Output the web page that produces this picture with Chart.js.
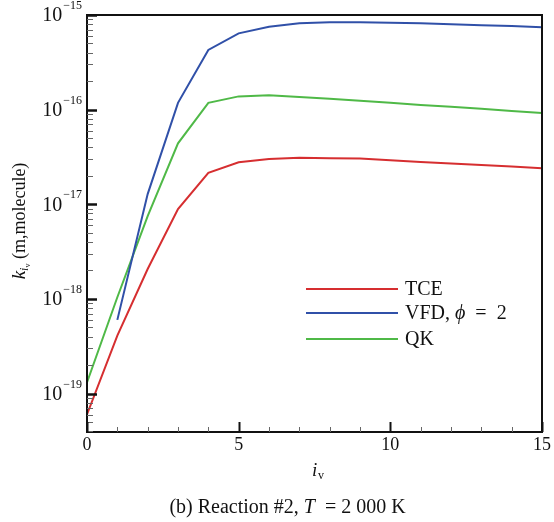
<!DOCTYPE html>
<html>
<head>
<meta charset="utf-8">
<script src="https://cdn.jsdelivr.net/npm/chart.js@4/dist/chart.umd.min.js"></script>
<style>
    body { margin: 0; background: #fff; }
    #wrap { width: 554px; height: 522px; }
</style>
</head>
<body>
<div id="wrap"><canvas id="grafico" width="554" height="522"></canvas></div>
<script>
// --- DATOS ---
const nivelesIv = [0, 1, 2, 3, 4, 5, 6, 7, 8, 9, 10, 11, 12, 13, 14, 15];
const valoresTCE = [6.0e-20, 4.1e-19, 2.07e-18, 8.9e-18, 2.15e-17, 2.78e-17, 3.01e-17, 3.11e-17, 3.06e-17, 3.04e-17, 2.92e-17, 2.80e-17, 2.70e-17, 2.60e-17, 2.51e-17, 2.40e-17];
const valoresVFD = [null, 6.0e-19, 1.28e-17, 1.18e-16, 4.27e-16, 6.4e-16, 7.5e-16, 8.2e-16, 8.4e-16, 8.4e-16, 8.3e-16, 8.2e-16, 7.98e-16, 7.8e-16, 7.65e-16, 7.4e-16];
const valoresQK = [1.31e-19, 1.04e-18, 7.5e-18, 4.4e-17, 1.18e-16, 1.38e-16, 1.42e-16, 1.36e-16, 1.30e-16, 1.24e-16, 1.18e-16, 1.12e-16, 1.07e-16, 1.02e-16, 0.97e-16, 0.92e-16];
const ticksX = [0, 5, 10, 15];
const exponentesY = [-19, -18, -17, -16, -15];

const colores = { tce: '#d62e30', vfd: '#3050a8', qk: '#4fb947' };
const FUENTE = '"Liberation Serif", "DejaVu Serif", serif';

function puntos(valores) {
    return nivelesIv.map((x, i) => ({ x: x, y: valores[i] }));
}

// escribe trozos de texto seguidos (normal / cursiva) desde x0
function textoPartes(ctx, partes, y, tam) {
    let ancho = 0;
    partes.forEach(([txt, estilo]) => { ctx.font = estilo + tam + 'px ' + FUENTE; ancho += ctx.measureText(txt).width; });
    return { ancho, dibujar: (x0) => {
        let px = x0;
        partes.forEach(([txt, estilo]) => {
            ctx.font = estilo + tam + 'px ' + FUENTE;
            ctx.fillText(txt, px, y);
            px += ctx.measureText(txt).width;
        });
    } };
}

// --- PLUGIN DE EJES, ETIQUETAS Y LEYENDA ---
const dibujoEjes = {
    id: 'dibujoEjes',
    afterDraw(chart) {
        const ctx = chart.ctx;
        const area = chart.chartArea;
        const sx = chart.scales.x;
        const sy = chart.scales.y;
        ctx.save();
        ctx.fillStyle = '#111';
        ctx.strokeStyle = '#111';

        // marco
        ctx.lineWidth = 2;
        ctx.strokeRect(area.left, area.top, area.right - area.left, area.bottom - area.top);

        // marcas del eje y (menores y mayores)
        for (let e = -20; e <= -15; e++) {
            for (let m = 1; m <= 9; m++) {
                const v = m * Math.pow(10, e);
                if (v < sy.min * 0.999 || v > sy.max * 1.001) continue;
                const py = Math.round(sy.getPixelForValue(v)) + 0.5;
                ctx.beginPath();
                ctx.lineWidth = m === 1 ? 2.5 : 1;
                ctx.strokeStyle = m === 1 ? '#111' : '#666';
                ctx.moveTo(area.left, py);
                ctx.lineTo(area.left + (m === 1 ? 10 : 6), py);
                ctx.stroke();
            }
        }

        // marcas del eje x
        for (let i = 0; i <= 15; i++) {
            const px = Math.round(sx.getPixelForValue(i)) + 0.5;
            const mayor = i % 5 === 0;
            ctx.beginPath();
            ctx.lineWidth = mayor ? 2 : 1;
            ctx.strokeStyle = mayor ? '#111' : '#666';
            ctx.moveTo(px, area.bottom);
            ctx.lineTo(px, area.bottom - (mayor ? 10 : 5));
            ctx.stroke();
        }

        // etiquetas eje y: 10 con exponente
        ctx.fillStyle = '#111';
        ctx.textBaseline = 'middle';
        exponentesY.forEach(e => {
            const py = sy.getPixelForValue(Math.pow(10, e));
            const exp = '\u2212' + String(Math.abs(e));
            ctx.font = '12px ' + FUENTE;
            const wExp = ctx.measureText(exp).width;
            ctx.textAlign = 'left';
            const finX = 82;
            ctx.fillText(exp, finX - wExp, py - 9);
            ctx.font = '20px ' + FUENTE;
            ctx.textAlign = 'right';
            ctx.fillText('10', finX - wExp - 1, py + 1);
        });

        // etiquetas eje x
        ctx.font = '18px ' + FUENTE;
        ctx.textAlign = 'center';
        ticksX.forEach(t => {
            ctx.fillText(String(t), sx.getPixelForValue(t), 445);
        });

        // titulo eje x: i_v
        ctx.font = 'italic 19px ' + FUENTE;
        ctx.textAlign = 'left';
        ctx.fillText('i', 312, 471);
        ctx.font = '12px ' + FUENTE;
        ctx.fillText('v', 318, 476);

        // titulo eje y (rotado)
        ctx.save();
        ctx.translate(20, 221);
        ctx.rotate(-Math.PI / 2);
        ctx.textAlign = 'left';
        const partes = [
            { t: 'k', f: 'italic 19px ', dy: 0 },
            { t: 'i', f: 'italic 12px ', dy: 5 },
            { t: 'v', f: '8px ', dy: 8 },
            { t: ' (m,molecule)', f: '18px ', dy: 0 }
        ];
        let total = 0;
        partes.forEach(p => { ctx.font = p.f + FUENTE; p.w = ctx.measureText(p.t).width; total += p.w; });
        let cx = -total / 2;
        partes.forEach(p => {
            ctx.font = p.f + FUENTE;
            ctx.fillText(p.t, cx, p.dy);
            cx += p.w;
        });
        ctx.restore();

        // leyenda
        const leyenda = [
            { y: 289, color: colores.tce, partes: [['TCE', '']] },
            { y: 313, color: colores.vfd, partes: [['VFD, ', ''], ['\u03D5', 'italic '], ['\u2002=\u20022', '']] },
            { y: 339, color: colores.qk, partes: [['QK', '']] }
        ];
        leyenda.forEach(item => {
            ctx.beginPath();
            ctx.lineWidth = 2;
            ctx.strokeStyle = item.color;
            ctx.moveTo(306, item.y);
            ctx.lineTo(398, item.y);
            ctx.stroke();
            textoPartes(ctx, item.partes, item.y + 1, 20).dibujar(405);
        });

        // pie de figura
        const pie = [['(b) Reaction #2, ', ''], ['T', 'italic '], ['\u2002= 2 000 K', '']];
        const tp = textoPartes(ctx, pie, 508, 20);
        tp.dibujar(162 + (251 - tp.ancho) / 2);

        ctx.restore();
    }
};

// --- GRAFICO ---
const serie = (label, valores, color) => ({
    label: label,
    data: puntos(valores),
    borderColor: color,
    backgroundColor: color,
    borderWidth: 2,
    pointRadius: 0,
    tension: 0,
    spanGaps: false
});

new Chart(document.getElementById('grafico').getContext('2d'), {
    type: 'line',
    data: {
        datasets: [
            serie('TCE', valoresTCE, colores.tce),
            serie('VFD, \u03D5 = 2', valoresVFD, colores.vfd),
            serie('QK', valoresQK, colores.qk)
        ]
    },
    options: {
        responsive: false,
        animation: false,
        layout: { padding: { left: 87, right: 12, top: 15, bottom: 90 } },
        plugins: { legend: { display: false }, tooltip: { enabled: false } },
        scales: {
            x: { type: 'linear', min: 0, max: 15, display: false },
            y: { type: 'logarithmic', min: 3.92e-20, max: 1e-15, display: false }
        }
    },
    plugins: [dibujoEjes]
});
</script>
</body>
</html>
